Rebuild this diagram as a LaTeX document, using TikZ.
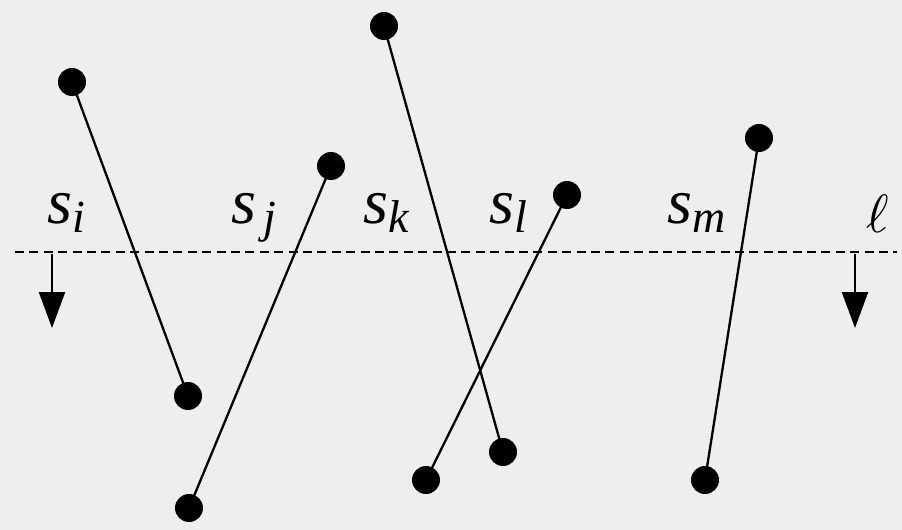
\documentclass[tikz,border=0pt]{standalone}
\usepackage{fontspec}
\setmainfont{Liberation Serif}
\newfontfamily\tni{Liberation Serif Italic}
\usetikzlibrary{arrows.meta}
\definecolor{bg}{HTML}{EEEEEE}
\newcommand{\lab}[2]{{\tni\fontsize{32}{36}\selectfont #1\raisebox{-0.15em}{\fontsize{23}{26}\selectfont #2}}}
\begin{document}
\begin{tikzpicture}[x=0.5pt,y=-0.5pt,
  seg/.style={line width=1.15pt},
  dot/.style={circle,fill=black,inner sep=0pt,minimum size=14pt},
  lbl/.style={anchor=base west,inner sep=0pt},
  sweep/.style={line width=1.15pt,-{Triangle[length=18pt,width=13pt]}}]
\fill[bg] (0,0) rectangle (902,530);
\useasboundingbox (0,0) rectangle (902,530);
\node[dot] (ia) at (72,82) {};
\node[dot] (ib) at (188,396) {};
\node[dot] (ja) at (331,166) {};
\node[dot] (jb) at (189,508) {};
\node[dot] (ka) at (384,26) {};
\node[dot] (kb) at (503,452) {};
\node[dot] (la) at (567,195) {};
\node[dot] (lb) at (426,480) {};
\node[dot] (ma) at (759,138) {};
\node[dot] (mb) at (705,480) {};
\draw[seg] (ia.center) -- (ib.center);
\draw[seg] (ja.center) -- (jb.center);
\draw[seg] (ka.center) -- (kb.center);
\draw[seg] (la.center) -- (lb.center);
\draw[seg] (ma.center) -- (mb.center);
\coordinate (d1) at (15,252);
\coordinate (d2) at (897,252);
\draw[line width=1.15pt,dash pattern=on 4.5pt off 2.7pt] (d1) -- (d2);
\coordinate (a1) at (52,254);
\coordinate (a2) at (52,328);
\coordinate (b1) at (855,254);
\coordinate (b2) at (855,328);
\draw[sweep] (a1) -- (a2);
\draw[sweep] (b1) -- (b2);
\node[lbl] (si) at (47,223) {\lab{s}{i}};
\node[lbl] (sj) at (231,223) {\lab{s}{\,j}};
\node[lbl] (sk) at (363,223) {\lab{s}{k}};
\node[lbl] (sl) at (489,223) {\lab{s}{l}};
\node[lbl] (sm) at (667,223) {\lab{s}{m}};
\node[lbl] (ell) at (866,232) {\scalebox{2.7}{$\ell$}};
\end{tikzpicture}
\end{document}
